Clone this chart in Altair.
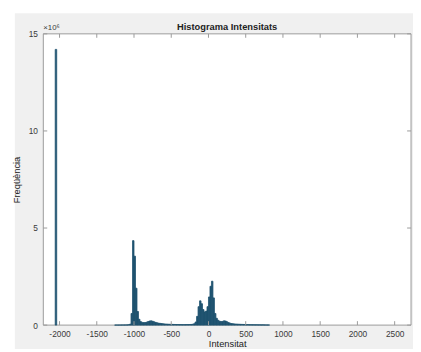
import altair as alt
import pandas as pd

# Histogram bins (bin centres in intensity units, counts in millions)
spike_center = [-2048]
spike_count = [14.2]

centers = [
    -1250, -1230, -1210, -1190, -1170, -1150, -1130, -1110, -1090, -1070,
    -1050, -1030, -1010, -990, -970, -950, -930, -910, -890, -870,
    -850, -830, -810, -790, -770, -750, -730, -710, -690, -670,
    -650, -630, -610, -590, -570, -550, -530, -510, -490, -470,
    -450, -430, -410, -390, -370, -350, -330, -310, -290, -270,
    -250, -230, -210, -190, -170, -150, -130, -110, -90, -70,
    -50, -30, -10, 10, 30, 50, 70, 90, 110, 130,
    150, 170, 190, 210, 230, 250, 270, 290, 310, 330,
    350, 370, 390, 410, 430, 450, 470, 490, 510, 530,
    550, 570, 590, 610, 630, 650, 670, 690, 710, 730,
    750, 770, 790, 810,
]
counts = [
    0.005, 0.005, 0.006, 0.006, 0.007, 0.008, 0.009, 0.010, 0.012, 0.020,
    0.05, 0.6, 4.35, 3.55, 1.9, 0.7, 0.3, 0.18, 0.14, 0.13,
    0.13, 0.15, 0.18, 0.21, 0.22, 0.20, 0.17, 0.14, 0.12, 0.10,
    0.09, 0.08, 0.07, 0.06, 0.055, 0.05, 0.045, 0.04, 0.038, 0.035,
    0.032, 0.03, 0.028, 0.026, 0.025, 0.024, 0.024, 0.025, 0.026, 0.028,
    0.03, 0.035, 0.045, 0.07, 0.16, 0.45, 0.95, 1.25, 1.1, 0.8,
    0.68, 0.72, 0.95, 1.45, 2.0, 2.26, 1.4, 0.6, 0.35, 0.25,
    0.2, 0.18, 0.19, 0.22, 0.21, 0.17, 0.13, 0.10, 0.08, 0.07,
    0.06, 0.055, 0.05, 0.045, 0.04, 0.037, 0.034, 0.03, 0.028, 0.025,
    0.023, 0.021, 0.02, 0.018, 0.017, 0.016, 0.015, 0.014, 0.013, 0.012,
    0.011, 0.010, 0.009, 0.008,
]
bin_width = 20

x_ticks = [-2000, -1500, -1000, -500, 0, 500, 1000, 1500, 2000, 2500]
y_ticks = [0, 5, 10, 15]

all_c = spike_center + centers
all_v = spike_count + counts
df = pd.DataFrame({
    "start": [c - bin_width / 2 for c in all_c],
    "end": [c + bin_width / 2 for c in all_c],
    "freq": all_v,
})

W, H = 375, 297
FONT = "Liberation Sans"
AX = "#9a9a9a"
LAB = "#3a3a3a"
BAR = "#1f5270"

xscale = alt.Scale(domain=[-2218, 2720], nice=False, zero=False)
yscale = alt.Scale(domain=[0, 15], nice=False)

one = pd.DataFrame({"a": [0]})

bg = alt.Chart(one).mark_rect(fill="#f0f0f0").encode(
    x=alt.value(-29), x2=alt.value(W + 10), y=alt.value(-21), y2=alt.value(H + 30)
)
plotbox = alt.Chart(one).mark_rect(fill="white", stroke=AX, strokeWidth=1).encode(
    x=alt.value(0), x2=alt.value(W), y=alt.value(0), y2=alt.value(H)
)

bars = alt.Chart(df).mark_rect(color=BAR, stroke=BAR, strokeWidth=0.8).encode(
    x=alt.X("start:Q", scale=xscale,
            axis=alt.Axis(values=x_ticks, ticks=False, domain=False, grid=False,
                          labelExpr="'' + datum.value", labelFont=FONT, labelFontSize=8.5,
                          labelColor=LAB, labelPadding=5, title="Intensitat",
                          titleFont=FONT, titleFontSize=9.5, titleFontWeight="normal",
                          titleColor="#222222", titlePadding=0, zindex=1)),
    x2="end:Q",
    y=alt.Y("freq:Q", scale=yscale,
            axis=alt.Axis(values=y_ticks, ticks=False, domain=False, grid=False,
                          labelFont=FONT, labelFontSize=8.5, labelColor=LAB,
                          labelPadding=6, title="Freqüència", titleFont=FONT,
                          titleFontSize=9.5, titleFontWeight="normal",
                          titleColor="#222222", titlePadding=7, zindex=1)),
    y2=alt.datum(0),
)

xt = pd.DataFrame({"t": x_ticks})
yt = pd.DataFrame({"t": y_ticks})
xtick_bot = alt.Chart(xt).mark_rule(color=AX, strokeWidth=1).encode(
    x=alt.X("t:Q", scale=xscale), y=alt.value(H), y2=alt.value(H - 4))
xtick_top = alt.Chart(xt).mark_rule(color=AX, strokeWidth=1).encode(
    x=alt.X("t:Q", scale=xscale), y=alt.value(0), y2=alt.value(4))
ytick_l = alt.Chart(yt).mark_rule(color=AX, strokeWidth=1).encode(
    y=alt.Y("t:Q", scale=yscale), x=alt.value(0), x2=alt.value(4))
ytick_r = alt.Chart(yt).mark_rule(color=AX, strokeWidth=1).encode(
    y=alt.Y("t:Q", scale=yscale), x=alt.value(W - 4), x2=alt.value(W))

title = alt.Chart(one).mark_text(
    text="Histograma Intensitats", font=FONT, fontSize=9.5, fontWeight="bold",
    color="#222222", align="center", baseline="alphabetic"
).encode(x=alt.value(W / 2), y=alt.value(-4))

exp = alt.Chart(one).mark_text(
    text="×10⁶", font=FONT, fontSize=8, color=LAB, align="left", baseline="middle"
).encode(x=alt.value(0), y=alt.value(-6))

chart = alt.layer(
    bg, plotbox, bars, xtick_bot, xtick_top, ytick_l, ytick_r, title, exp
).properties(
    width=W, height=H,
    autosize=alt.AutoSizeParams(type="none"),
    padding={"left": 36, "top": 23, "right": 2, "bottom": 21},
    background="white",
).configure_view(stroke=None, fill=None)

chart.save("out.html", embed_options={"renderer": "svg", "actions": False})
